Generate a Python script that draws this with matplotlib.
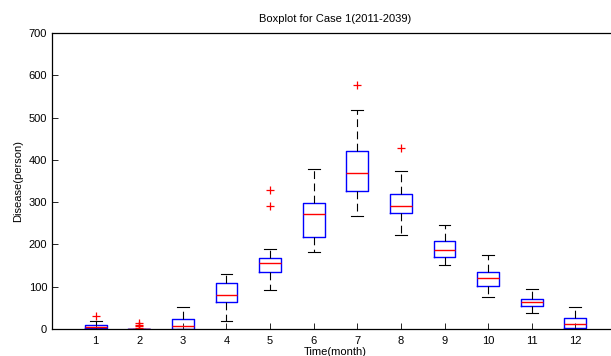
import matplotlib
matplotlib.use('Agg')
import matplotlib.pyplot as plt

plt.rcParams['font.family'] = ['Liberation Sans', 'DejaVu Sans']

months = list(range(1, 13))
# five-number summaries per month
whislo = [0, 0, 0, 20, 92, 183, 267, 223, 151, 76, 39, 0]
q1 = [2, 0, 0, 65, 134, 217, 327, 274, 170, 102, 54, 3]
med = [5, 0, 7, 81, 156, 273, 370, 290, 186, 120, 63, 13]
q3 = [9, 0, 23, 108, 167, 299, 420, 320, 207, 135, 72, 25]
whishi = [20, 0, 51, 130, 190, 378, 518, 374, 247, 176, 95, 53]
fliers = [[31], [3, 6, 10, 14], [], [], [290, 329], [], [576], [429], [], [], [], []]

stats = []
for i in range(len(months)):
    stats.append(dict(whislo=whislo[i], q1=q1[i], med=med[i], q3=q3[i],
                      whishi=whishi[i], fliers=fliers[i], label=str(months[i])))

fig = plt.figure(figsize=(6.11, 3.56), dpi=100)
ax = fig.add_axes([52/611, 27/356, 567/611, 296/356])

ax.bxp(stats, positions=months, widths=0.5, capwidths=0.27,
       boxprops=dict(color='#0000ff', lw=1.0),
       medianprops=dict(color='#ff0000', lw=1.0),
       whiskerprops=dict(color='black', lw=0.8, linestyle=(0, (7, 4))),
       capprops=dict(color='black', lw=0.8),
       flierprops=dict(marker='+', markeredgecolor='#ff0000', markersize=6,
                       markeredgewidth=0.9, linestyle='none'))

ax.set_xlim(0, 13)
ax.set_ylim(0, 700)
ax.set_yticks(range(0, 701, 100))
ax.set_xticks(months)
ax.set_xticklabels([str(m) for m in months])
ax.tick_params(direction='in', length=4, width=0.6, labelsize=8,
               top=False, right=False)
ax.tick_params(axis='x', pad=5)
for s in ax.spines.values():
    s.set_linewidth(0.9)

ax.set_title('Boxplot for Case 1(2011-2039)', fontsize=8, pad=8)
ax.set_xlabel('Time(month)', fontsize=8, labelpad=1)
ax.set_ylabel('Disease(person)', fontsize=8, labelpad=4)

fig.savefig('out.png', dpi=100)
